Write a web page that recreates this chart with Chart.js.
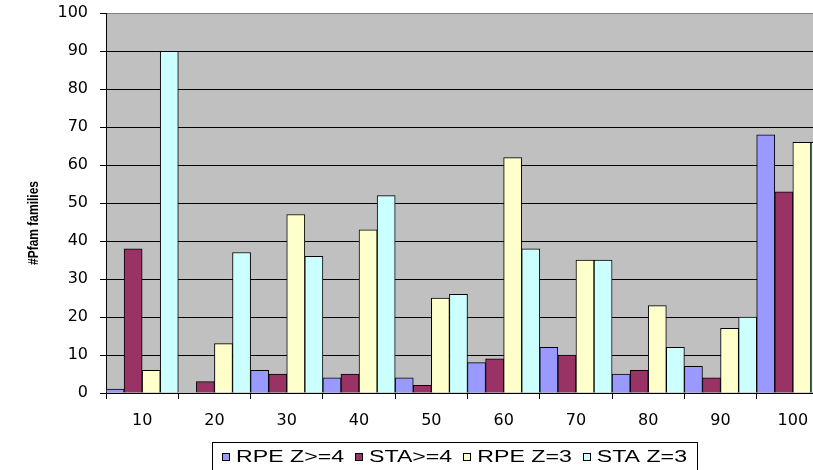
<!DOCTYPE html>
<html>
<head>
<meta charset="utf-8">
<script src="https://cdn.jsdelivr.net/npm/chart.js@4/dist/chart.umd.min.js"></script>
<style>
  html, body { margin: 0; padding: 0; background: #fff; overflow: hidden; width: 813px; height: 470px; }
  #wrap { position: relative; width: 840px; height: 470px; }
</style>
</head>
<body>
<div id="wrap"><canvas id="c"></canvas></div>
<script>
// Score bins on the x axis
const categories = ['10', '20', '30', '40', '50', '60', '70', '80', '90', '100'];

// Number of Pfam families per bin, one array per method
const rpeZ4 = [1, 0, 6, 4, 4, 8, 12, 5, 7, 68];
const staZ4 = [38, 3, 5, 5, 2, 9, 10, 6, 4, 53];
const rpeZ3 = [6, 13, 47, 43, 25, 62, 35, 23, 17, 66];
const staZ3 = [90, 37, 36, 52, 26, 38, 35, 12, 20, 66];

const seriesNames = ['RPE Z>=4', 'STA>=4', 'RPE Z=3', 'STA Z=3'];
const yTitle = '#Pfam families';

const yMin = 0, yMax = 100, yStep = 10;

const colors = ['#9999FF', '#993366', '#FFFFCC', '#CCFFFF'];
const seriesValues = [rpeZ4, staZ4, rpeZ3, staZ3];

// Grey plot background, rotated axis title and a boxed legend underneath
const decorations = {
  id: 'decorations',
  beforeDraw(chart) {
    const { ctx, chartArea: a } = chart;
    ctx.save();
    ctx.fillStyle = '#C0C0C0';
    ctx.fillRect(a.left, a.top, a.right - a.left, a.bottom - a.top);
    ctx.restore();
  },
  afterDraw(chart) {
    const ctx = chart.ctx;

    // y axis title, squeezed to a fixed length along the axis
    ctx.save();
    ctx.font = 'bold 14px "Liberation Sans", Arial, sans-serif';
    ctx.fillStyle = '#000';
    ctx.translate(34, 223);
    ctx.rotate(-Math.PI / 2);
    const tw = ctx.measureText(yTitle).width;
    ctx.scale(84 / tw, 1);
    ctx.textAlign = 'center';
    ctx.textBaseline = 'middle';
    ctx.fillText(yTitle, 0, 0);
    ctx.restore();

    // legend
    const box = { left: 212, top: 442, right: 697, bottom: 480 };
    ctx.save();
    ctx.strokeStyle = '#000';
    ctx.lineWidth = 1;
    ctx.strokeRect(box.left + 0.5, box.top + 0.5, box.right - box.left, box.bottom - box.top);
    ctx.font = '16px "Liberation Sans", Arial, sans-serif';
    const sw = 8, gapIn = 6, gapOut = 11, padX = 10;
    const ds = chart.data.datasets;
    const widths = ds.map(d => ctx.measureText(d.label).width);
    const sum = widths.reduce((p, q) => p + q, 0);
    const n = ds.length;
    const avail = (box.right - box.left) - 2 * padX - n * (sw + gapIn) - (n - 1) * gapOut;
    const sx = avail / sum;
    const sqTop = 453, baseline = 462;
    let x = box.left + padX;
    ds.forEach((d, i) => {
      const xi = Math.round(x);
      ctx.fillStyle = d.backgroundColor;
      ctx.fillRect(xi, sqTop, sw, sw);
      ctx.strokeStyle = '#000';
      ctx.strokeRect(xi + 0.5, sqTop + 0.5, sw - 1, sw - 1);
      x += sw + gapIn;
      ctx.save();
      ctx.translate(x, baseline);
      ctx.scale(sx, 1);
      ctx.fillStyle = '#000';
      ctx.textBaseline = 'alphabetic';
      ctx.fillText(d.label, 0, 0);
      ctx.restore();
      x += widths[i] * sx + gapOut;
    });
    ctx.restore();
  }
};

const tickFont = { family: '"DejaVu Sans", sans-serif', size: 16 };

new Chart(document.getElementById('c'), {
  type: 'bar',
  data: {
    labels: categories,
    datasets: seriesNames.map((name, i) => ({
      label: name,
      data: seriesValues[i],
      backgroundColor: colors[i],
      borderColor: '#000',
      borderWidth: 1,
      categoryPercentage: 1,
      barPercentage: 1
    }))
  },
  options: {
    responsive: true,
    maintainAspectRatio: false,
    animation: false,
    layout: { padding: { top: 13.3, right: 11, bottom: 0, left: 0 } },
    plugins: {
      legend: { display: false },
      tooltip: { enabled: false },
      title: { display: false }
    },
    scales: {
      x: {
        offset: true,
        grid: {
          offset: true,
          drawOnChartArea: false,
          drawTicks: true,
          tickLength: 6,
          color: '#000',
          tickColor: '#000'
        },
        border: { display: true, color: '#000', width: 1 },
        ticks: { color: '#000', font: tickFont, padding: 12, maxRotation: 0, autoSkip: false },
        afterFit(scale) {
          scale.height = 77;
          scale.paddingLeft = 0;
          scale.paddingRight = 0;
        }
      },
      y: {
        min: yMin,
        max: yMax,
        grid: {
          color: c => (c.tick && c.tick.value === yMax ? '#808080' : '#000'),
          tickColor: '#000',
          tickLength: 6,
          lineWidth: 1
        },
        border: { display: true, color: '#000', width: 1 },
        ticks: { stepSize: yStep, color: '#000', font: tickFont, padding: 12 },
        afterFit(scale) {
          scale.width = 106;
          scale.paddingTop = 0;
          scale.paddingBottom = 0;
        }
      }
    }
  },
  plugins: [decorations]
});
</script>
</body>
</html>
